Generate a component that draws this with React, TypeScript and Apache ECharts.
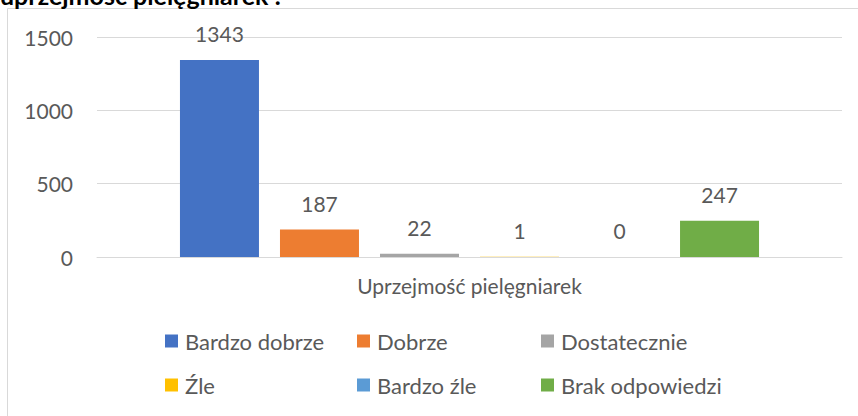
import React, { useEffect, useRef } from "react";
import * as echarts from "echarts";

const category = ["Uprzejmość pielęgniarek"];
const seriesNames = ["Bardzo dobrze", "Dobrze", "Dostatecznie", "Źle", "Bardzo źle", "Brak odpowiedzi"];
const seriesValues = [1343, 187, 22, 1, 0, 247];
const seriesColors = ["#4472C4", "#ED7D31", "#A5A5A5", "#FFC000", "#5B9BD5", "#70AD47"];
const yTicks = { min: 0, max: 1500, interval: 500 };
const titleText = "uprzejmość pielęgniarek :";

const FONT = "Lato";
const TXT = "#595959";

export default function App() {
  const ref = useRef<HTMLDivElement>(null);
  useEffect(() => {
    if (!ref.current) return;
    const chart = echarts.init(ref.current, undefined, { renderer: "svg" });
    const legendCols = [
      [seriesNames[0], seriesNames[3]],
      [seriesNames[1], seriesNames[4]],
      [seriesNames[2], seriesNames[5]],
    ];
    const legendLefts = [165, 357, 541];
    chart.setOption({
      animation: false,
      backgroundColor: "#ffffff",
      textStyle: { fontFamily: FONT },
      grid: { left: 97, right: 16, top: 37, bottom: 159 },
      xAxis: {
        type: "category",
        data: category,
        axisLine: { show: true, lineStyle: { color: "#D9D9D9", width: 1 } },
        axisTick: { show: false },
        axisLabel: { color: TXT, fontSize: 21, fontFamily: FONT, margin: 18 },
      },
      yAxis: {
        type: "value",
        min: yTicks.min,
        max: yTicks.max,
        interval: yTicks.interval,
        axisLine: { show: false },
        axisTick: { show: false },
        splitLine: { lineStyle: { color: "#D9D9D9", width: 1 } },
        axisLabel: {
          color: TXT,
          fontSize: 21,
          fontFamily: FONT,
          margin: 24,
          formatter: (v: number) => String(v),
        },
      },
      legend: legendCols.map((d, i) => ({
        data: d,
        orient: "vertical",
        left: legendLefts[i],
        top: 330,
        padding: 0,
        itemWidth: 13,
        itemHeight: 13,
        itemGap: 22,
        icon: "rect",
        textStyle: { color: TXT, fontSize: 22, fontFamily: FONT, lineHeight: 22, padding: [0, 0, 0, 2] },
      })),
      series: seriesNames.map((name, i) => ({
        name,
        type: "bar",
        data: [seriesValues[i]],
        barWidth: 79,
        barGap: "26.6%",
        itemStyle: { color: seriesColors[i] },
        label: {
          show: true,
          position: "top",
          distance: 16,
          color: TXT,
          fontSize: 21,
          fontFamily: FONT,
        },
      })),
      graphic: [
        {
          type: "rect",
          shape: { x: 7.5, y: 8.5, width: 1000, height: 1000 },
          style: { fill: "none", stroke: "#D9D9D9", lineWidth: 1 },
          silent: true,
        },
        {
          type: "text",
          left: 0,
          top: -18,
          style: {
            text: titleText,
            fill: "#000000",
            font: `bold 25px ${FONT}`,
          },
          silent: true,
        },
      ],
    });
    return () => chart.dispose();
  }, []);
  return (
    <div
      ref={ref}
      style={{ position: "fixed", left: 0, top: 0, width: 858, height: 416 }}
    />
  );
}
